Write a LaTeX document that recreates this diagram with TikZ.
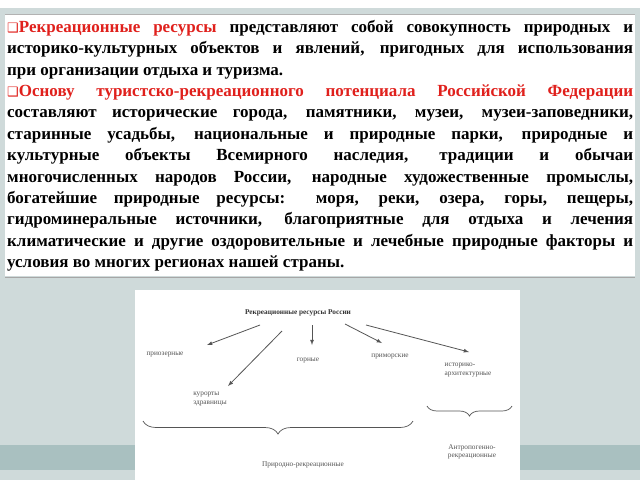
\documentclass[tikz,border=0pt]{standalone}
\usepackage{fontspec}
\setmainfont{Liberation Serif}
\newfontfamily\symfont{DejaVu Sans}
\usetikzlibrary{positioning, decorations.pathreplacing}
\definecolor{slidebg}{HTML}{CFDADA}
\definecolor{slideband}{HTML}{A9C0C0}
\definecolor{headred}{HTML}{E0201C}
\definecolor{diagray}{HTML}{555555}
\newcommand{\bul}{{\symfont\color{headred}\fontsize{13}{13}\selectfont ❑}}
\begin{document}
\begin{tikzpicture}[x=1pt, y=-1pt,
  lbl/.style={font=\fontsize{7.3}{8.5}\selectfont, text=diagray, align=center, inner sep=1pt},
  arr/.style={-latex, diagray, line width=.8pt},
  brc/.style={decorate, decoration={brace, mirror, amplitude=13pt}, diagray, line width=.7pt}]
  % slide
  \fill[slidebg] (0,0) rectangle (640,480);
  \fill[slideband] (0,445) rectangle (640,470);
  \fill[white] (0,0) rectangle (640,8);
  \fill[white] (5,14) rectangle (635,276);
  \draw[gray!60] (5,14) -- (635,14);
  \draw[gray!70, line width=.8pt] (5,277) -- (635,277);
  \node (txt) [anchor=north west, text width=626pt, align=justify, inner sep=0pt,
    font=\bfseries\fontsize{17}{21.4}\selectfont] at (7,20)
    {\bul\textcolor{headred}{Рекреационные ресурсы} представляют собой совокупность природных и\linebreak
     историко-культурных объектов и явлений, пригодных для использования\linebreak
     при организации отдыха и туризма.\\
     \bul\textcolor{headred}{Основу туристско-рекреационного потенциала Российской Федерации}\linebreak
     составляют исторические города, памятники, музеи, музеи-заповедники,\linebreak
     старинные усадьбы, национальные и природные парки, природные и\linebreak
     культурные объекты Всемирного наследия, традиции и обычаи\linebreak
     многочисленных народов России, народные художественные промыслы,\linebreak
     богатейшие природные ресурсы: моря, реки, озера, горы, пещеры,\linebreak
     гидроминеральные источники, благоприятные для отдыха и лечения\linebreak
     климатические и другие оздоровительные и лечебные природные факторы и\linebreak
     условия во многих регионах нашей страны.};
  % picture
  \fill[white] (135,290) rectangle (520,480);
  \node (root) [lbl, font=\bfseries\fontsize{7.3}{8.5}\selectfont, text=black!80] at (298,313) {Рекреационные ресурсы России};
  \node (lake) [lbl] at (165,355) {приозерные};
  \node (resort) [lbl, align=left] at (210,399) {курорты\\здравницы};
  \node (mount) [lbl] at (308,361) {горные};
  \node (sea) [lbl] at (390,357) {приморские};
  \node (hist) [lbl, align=left] at (468,370) {историко-\\архитектурные};
  \node (nat) [lbl] at (303,465) {Природно-рекреационные};
  \node (anth) [lbl] at (472,452) {Антропогенно-\\рекреационные};
  \coordinate (a1) at (260,325); \coordinate (b1) at (207,345);
  \coordinate (a2) at (282,331); \coordinate (b2) at (228,386);
  \coordinate (a3) at (312,325); \coordinate (b3) at (312,345);
  \coordinate (a4) at (345,324); \coordinate (b4) at (382,343);
  \coordinate (a5) at (366,325); \coordinate (b5) at (469,352);
  \draw[arr] (a1) -- (b1);
  \draw[arr] (a2) -- (b2);
  \draw[arr] (a3) -- (b3);
  \draw[arr] (a4) -- (b4);
  \draw[arr] (a5) -- (b5);
  \draw[brc] (143,421) -- (413,421);
  \draw[brc, decoration={amplitude=10pt}] (427,406) -- (512,406);
\end{tikzpicture}
\end{document}
